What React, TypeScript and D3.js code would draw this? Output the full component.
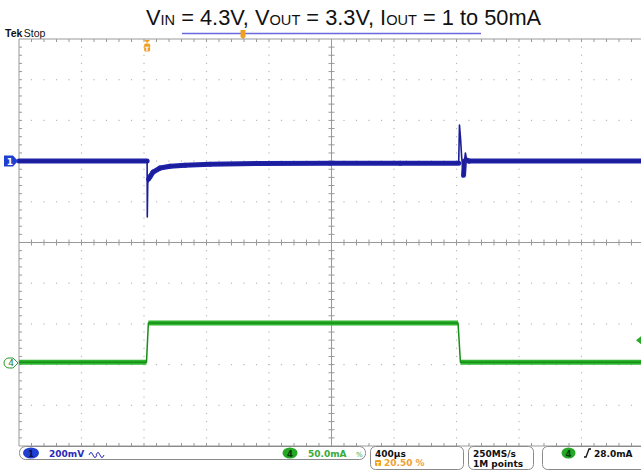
import React from "react";
import * as d3 from "d3";

// ---- data ----
// Channel 1: output voltage deviation (mV) vs time (µs, relative to trigger)
const ch1Time = [-820, 0, 1, 4, 10, 19, 38, 83, 147, 243, 403, 723, 1171, 1619, 1994, 1999, 2006, 2013, 2025, 2031, 2037, 2045, 2060, 3180];
const ch1Mv = [0, 0, -275, -110, -88, -76, -54, -34, -25, -20, -15, -12, -10, -10, -10, 177, 110, 20, -70, 0, 40, 5, 0, 0];
// Channel 4: load current (mA)
const ch4Time = [-820, -4, 8, 1990, 2005, 3180];
const ch4mA = [1, 1, 49, 49, 1, 1];

const titleParts = [
  { t: "V", sub: false }, { t: "IN", sub: true }, { t: " = 4.3V, V", sub: false },
  { t: "OUT", sub: true }, { t: " = 3.3V, I", sub: false }, { t: "OUT", sub: true },
  { t: " = 1 to 50mA", sub: false },
];
const ch1Scale = "200mV";
const ch4Scale = "50.0mA";
const timeDiv = "400µs";
const trigPos = "20.50 %";
const sampleRate = "250MS/s";
const recordLen = "1M points";
const trigLevel = "28.0mA";

// ---- layout ----
const W = 641, H = 474;
const gx0 = 19, gx1 = 644, gy0 = 39, gy1 = 446;
const nX = 10, nY = 10;

export default function App() {
  const x = d3.scaleLinear().domain([-820, 3180]).range([gx0, gx1]);
  const y1 = d3.scaleLinear().domain([-1400, 600]).range([gy1, gy0]);
  const y4 = d3.scaleLinear().domain([-102, 398]).range([gy1, gy0]);

  const dx = (gx1 - gx0) / nX, dy = (gy1 - gy0) / nY;
  const cx = gx0 + dx * 5, cy = gy0 + dy * 5;

  const line1 = d3.line<number>().x((_, i) => x(ch1Time[i])).y((d) => y1(d));
  const line4 = d3.line<number>().x((_, i) => x(ch4Time[i])).y((d) => y4(d));

  // thick (noise band) segments: only where the trace is slow
  const thick1: JSX.Element[] = [];
  for (let i = 0; i < ch1Mv.length - 1; i++) {
    const a = ch1Mv[i], b = ch1Mv[i + 1];
    if (a >= -90 && a <= 15 && b >= -90 && b <= 15) {
      thick1.push(<line key={`b${i}`} x1={x(ch1Time[i])} y1={y1(a)} x2={x(ch1Time[i + 1])} y2={y1(b)} stroke="#1f22a8" strokeWidth={5} strokeLinecap="round" />);
    }
  }
  const thick4: JSX.Element[] = [];
  for (let i = 0; i < ch4mA.length - 1; i++) {
    if (ch4mA[i] === ch4mA[i + 1]) {
      thick4.push(<line key={`g${i}`} x1={x(ch4Time[i])} y1={y4(ch4mA[i])} x2={x(ch4Time[i + 1])} y2={y4(ch4mA[i + 1])} stroke="#2fb52f" strokeWidth={5} />);
    }
  }

  const dots: JSX.Element[] = [];
  for (let i = 1; i < nX; i++) {
    if (i === 5) continue;
    const xx = gx0 + i * dx;
    for (let j = 1; j < nY * 5; j++) {
      const yy = gy0 + j * dy / 5;
      dots.push(<rect key={`v${i}-${j}`} x={xx - 0.6} y={yy - 0.6} width={1.2} height={1.2} fill="#b8b8b8" />);
    }
  }
  for (let j = 1; j < nY; j++) {
    if (j === 5) continue;
    const yy = gy0 + j * dy;
    for (let i = 1; i < nX * 5; i++) {
      const xx = gx0 + i * dx / 5;
      dots.push(<rect key={`h${j}-${i}`} x={xx - 0.6} y={yy - 0.6} width={1.2} height={1.2} fill="#b8b8b8" />);
    }
  }
  const ticks: JSX.Element[] = [];
  for (let i = 1; i < nX * 5; i++) {
    const xx = gx0 + i * dx / 5;
    ticks.push(<line key={`tt${i}`} x1={xx} x2={xx} y1={gy0} y2={gy0 + 3} stroke="#999" />);
    ticks.push(<line key={`tb${i}`} x1={xx} x2={xx} y1={gy1} y2={gy1 - 3} stroke="#999" />);
    ticks.push(<line key={`tc${i}`} x1={xx} x2={xx} y1={cy - 3} y2={cy + 3} stroke="#999" />);
  }
  for (let j = 1; j < nY * 5; j++) {
    const yy = gy0 + j * dy / 5;
    ticks.push(<line key={`tl${j}`} x1={gx0} x2={gx0 + 3} y1={yy} y2={yy} stroke="#999" />);
    ticks.push(<line key={`tm${j}`} x1={cx - 3} x2={cx + 3} y1={yy} y2={yy} stroke="#999" />);
  }

  const statFont = "DejaVu Sans, Verdana, sans-serif";
  const trigX = x(0);

  return (
    <svg width={W} height={H} style={{ position: "absolute", left: 0, top: 0, background: "#fff" }}>
      {/* title */}
      <text x={146} y={25} fontFamily="Liberation Sans, Arial, sans-serif" fontSize={21.8} fill="#111">
        {titleParts.map((p, i) => (
          <tspan key={i} fontSize={p.sub ? 14.6 : 21.8}>{p.t}</tspan>
        ))}
      </text>
      {/* record bar */}
      <line x1={182} x2={481} y1={33.5} y2={33.5} stroke="#6a6ae0" strokeWidth={1.3} />
      <path d={`M240.5,30 h5 v7 l-2.5,2 l-2.5,-2 Z`} fill="#f0a020" />
      {/* Tek Stop */}
      <text x={5} y={37} fontFamily="Liberation Sans, Arial, sans-serif" fontSize={10.5} fill="#111">
        <tspan fontWeight="bold">Tek</tspan><tspan dx={1.5}>Stop</tspan>
      </text>

      {/* graticule */}
      {dots}
      <line x1={gx0} x2={gx1} y1={gy0} y2={gy0} stroke="#999" />
      <line x1={gx0} x2={gx1} y1={gy1} y2={gy1} stroke="#999" />
      <line x1={gx0} x2={gx0} y1={gy0} y2={gy1} stroke="#999" />
      <line x1={cx} x2={cx} y1={gy0} y2={gy1} stroke="#999" />
      <line x1={gx0} x2={gx1} y1={cy} y2={cy} stroke="#999" />
      {ticks}

      {/* trigger position marker */}
      <path d={`M${trigX - 3},40 h6 l-3,3 Z`} fill="#f0a020" />
      <rect x={trigX - 3} y={43.5} width={6} height={8} rx={1.5} fill="#f0a020" />
      <text x={trigX} y={50.5} textAnchor="middle" fontFamily={statFont} fontSize={6} fontWeight="bold" fill="#fff">T</text>

      {/* traces */}
      {thick4}
      <path d={line4(ch4mA) ?? ""} fill="none" stroke="#178f17" strokeWidth={1.5} strokeLinejoin="round" />
      {thick1}
      <path d={line1(ch1Mv) ?? ""} fill="none" stroke="#1a1c98" strokeWidth={1.6} strokeLinejoin="round" />

      {/* channel markers */}
      <path d={`M4,${y1(0) - 5.5} h9 l5,5.5 l-5,5.5 h-9 Z`} fill="#1f3fd0" />
      <text x={10} y={y1(0) + 3.5} textAnchor="middle" fontFamily={statFont} fontSize={9} fontWeight="bold" fill="#fff">1</text>
      <path d={`M9,${y4(0) - 5} h4 l5,5 l-5,5 h-4 a5,5 0 0 1 0,-10 Z`} fill="#fff" stroke="#2a9a2a" strokeWidth={1} />
      <text x={11} y={y4(0) + 3.5} textAnchor="middle" fontFamily={statFont} fontSize={9} fill="#2a7a2a">4</text>
      {/* trigger level */}
      <path d={`M636,${y4(28)} l5,-4 v8 Z`} fill="#2aa82a" />

      {/* status bar */}
      <rect x={19.5} y={446.5} width={346} height={13} rx={6} fill="#fff" stroke="#8a8a8a" />
      <ellipse cx={31} cy={453} rx={8} ry={5.5} fill="#1f3fd0" />
      <text x={31} y={456.5} textAnchor="middle" fontFamily={statFont} fontSize={8.5} fontWeight="bold" fill="#0a0a50">1</text>
      <text x={49} y={457} fontFamily={statFont} fontSize={9} fontWeight="bold" fill="#2a2ab8">{ch1Scale}</text>
      <path d="M89,455 q2,-5 4,0 q2,5 4,0 M96,455 q2,-5 4,0 q2,5 4,0" fill="none" stroke="#2a2ab8" strokeWidth={1} />
      <ellipse cx={290} cy={453} rx={7.5} ry={5.5} fill="#25a825" />
      <text x={290} y={456.5} textAnchor="middle" fontFamily={statFont} fontSize={8.5} fontWeight="bold" fill="#063a06">4</text>
      <text x={308} y={457} fontFamily={statFont} fontSize={9} fontWeight="bold" fill="#3aaa3a">{ch4Scale}</text>
      <text x={356} y={457} fontFamily={statFont} fontSize={7} fill="#3aaa3a">%</text>

      <rect x={370.5} y={446.5} width={93} height={23} rx={5} fill="#fff" stroke="#8a8a8a" />
      <text x={375} y={457} fontFamily={statFont} fontSize={9} fontWeight="bold" fill="#111">{timeDiv}</text>
      <rect x={375} y={460} width={6} height={6} rx={1} fill="#f0a020" />
      <text x={378} y={465.5} textAnchor="middle" fontFamily={statFont} fontSize={5} fontWeight="bold" fill="#fff">T</text>
      <text x={384} y={466} fontFamily={statFont} fontSize={9} fontWeight="bold" fill="#f0a030">{trigPos}</text>

      <rect x={468.5} y={446.5} width={65} height={23} rx={5} fill="#fff" stroke="#8a8a8a" />
      <text x={473} y={457} fontFamily={statFont} fontSize={9} fontWeight="bold" fill="#111">{sampleRate}</text>
      <text x={473} y={466.5} fontFamily={statFont} fontSize={9} fontWeight="bold" fill="#111">{recordLen}</text>

      <rect x={542.5} y={446.5} width={110} height={23} rx={5} fill="#fff" stroke="#8a8a8a" />
      <ellipse cx={568.5} cy={453} rx={7} ry={5.5} fill="#25a825" />
      <text x={568.5} y={456.5} textAnchor="middle" fontFamily={statFont} fontSize={8.5} fontWeight="bold" fill="#063a06">4</text>
      <path d="M584,457 h2 l3,-8 h2" fill="none" stroke="#111" strokeWidth={1.3} />
      <text x={594} y={457} fontFamily={statFont} fontSize={9} fontWeight="bold" fill="#111">{trigLevel}</text>
    </svg>
  );
}
